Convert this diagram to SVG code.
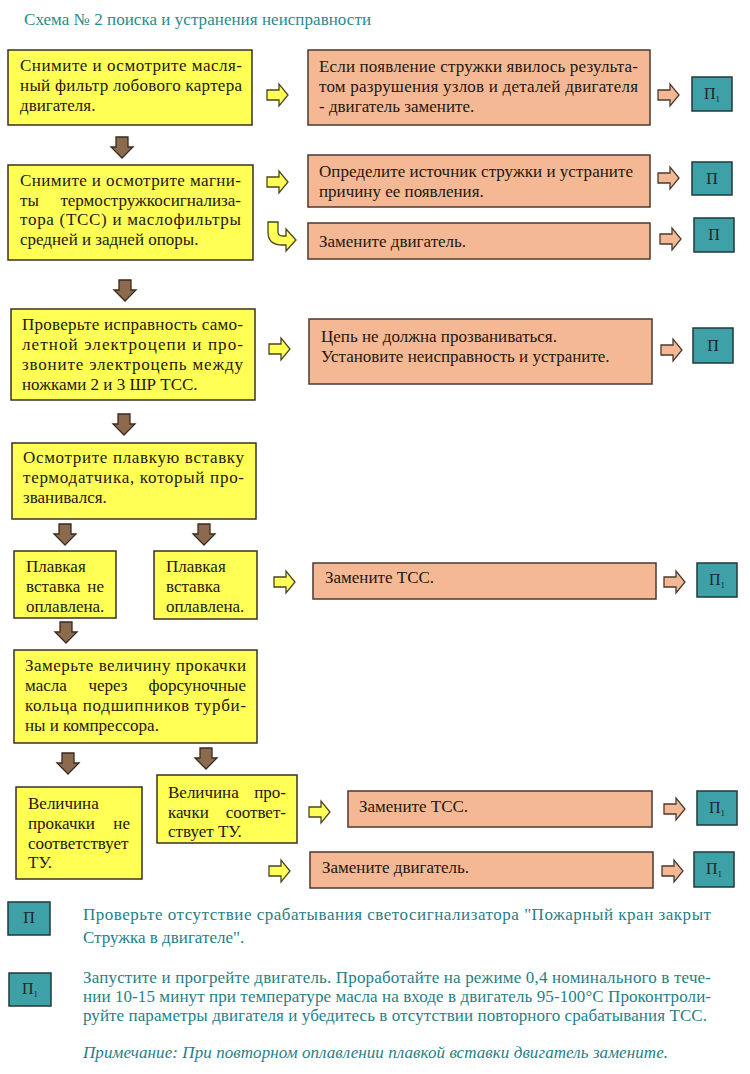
<svg xmlns="http://www.w3.org/2000/svg" width="750" height="1074" viewBox="0 0 750 1074">
<style>
.y{fill:#ffff55;stroke:#3a3026;stroke-width:1.5}
.s{fill:#f5b894;stroke:#4a3a30;stroke-width:1.5}
.t{fill:#3fa1a8;stroke:#22393a;stroke-width:1.5}
.tx{font-family:"Liberation Serif","Times New Roman",serif;font-size:17px;fill:#22170f}
.e{text-anchor:end}
.m{text-anchor:middle}
.lbl{font-family:"Liberation Serif","Times New Roman",serif;font-size:16px;fill:#1c2626;text-anchor:middle}
.leg{font-family:"Liberation Serif","Times New Roman",serif;font-size:17px;fill:#1f8088}
.ay{fill:#ffff55;stroke:#4a4420;stroke-width:1.3}
.as{fill:#f5b894;stroke:#4a3a30;stroke-width:1.3}
.ad{fill:#8b6a4e;stroke:#3a2a20;stroke-width:1.3}
</style>
<defs>
<path id="ar" d="M0,6 H12 V0 L21,11 L12,22 V16 H0 Z"/>
<path id="adn" d="M5,0 H17 V10 H22 L11,21 L0,10 H5 Z"/>
</defs>
<rect width="750" height="1074" fill="#ffffff"/>
<text id="title" class="leg" x="24" y="25" textLength="347" lengthAdjust="spacing" style="fill:#2a8a8c">Схема № 2 поиска и устранения неисправности</text>

<g id="connectors">
<use href="#adn" class="ad" x="111" y="137"/>
<use href="#adn" class="ad" x="114" y="280"/>
<use href="#adn" class="ad" x="113" y="414"/>
<use href="#adn" class="ad" x="54" y="524"/>
<use href="#adn" class="ad" x="193" y="524"/>
<use href="#adn" class="ad" x="55" y="622"/>
<use href="#adn" class="ad" x="57" y="753"/>
<use href="#adn" class="ad" x="195" y="748"/>
<use href="#ar" class="ay" x="267" y="84"/>
<use href="#ar" class="ay" x="267" y="171"/>
<use href="#ar" class="ay" x="269" y="338"/>
<use href="#ar" class="ay" x="274" y="571"/>
<use href="#ar" class="ay" x="309" y="801"/>
<use href="#ar" class="ay" x="269" y="860"/>
<path class="ay" d="M268,222 H278 V232 Q278,236 283,236 H286 V229 L296,240 L286,251 V245 H282 Q268,245 268,232 Z"/>
<use href="#ar" class="as" x="658" y="84"/>
<use href="#ar" class="as" x="658" y="167"/>
<use href="#ar" class="as" x="660" y="228"/>
<use href="#ar" class="as" x="661" y="339"/>
<use href="#ar" class="as" x="664" y="571"/>
<use href="#ar" class="as" x="664" y="798"/>
<use href="#ar" class="as" x="662" y="860"/>
</g>

<g id="n1">
<rect class="y" x="8" y="50" width="244" height="75"/>
<text class="tx" x="20" y="71" textLength="222" lengthAdjust="spacing">Снимите и осмотрите масля-</text>
<text class="tx" x="20" y="91" textLength="222" lengthAdjust="spacing">ный фильтр лобового картера</text>
<text class="tx" x="20" y="111">двигателя.</text>
</g>
<g id="n1r">
<rect class="s" x="308" y="50" width="342" height="75"/>
<text class="tx" x="319" y="72" textLength="319" lengthAdjust="spacing">Если появление стружки явилось результа-</text>
<text class="tx" x="319" y="92" textLength="319" lengthAdjust="spacing">том разрушения узлов и деталей двигателя</text>
<text class="tx" x="319" y="112">- двигатель замените.</text>
</g>
<g id="t1">
<rect class="t" x="692" y="77" width="40" height="34"/>
<text class="lbl" x="712" y="99">П<tspan font-size="9" dy="3">1</tspan></text>
</g>

<g id="n2">
<rect class="y" x="8" y="165" width="245" height="95"/>
<text class="tx" x="20" y="186" textLength="221" lengthAdjust="spacing">Снимите и осмотрите магни-</text>
<text class="tx" x="20" y="206">ты</text>
<text class="tx e" x="241" y="206">термостружкосигнализа-</text>
<text class="tx" x="20" y="225" textLength="221" lengthAdjust="spacing">тора (ТСС) и маслофильтры</text>
<text class="tx" x="20" y="245">средней и задней опоры.</text>
</g>
<g id="n2r">
<rect class="s" x="308" y="155" width="342" height="52"/>
<text class="tx" x="319" y="177" textLength="314" lengthAdjust="spacing">Определите источник стружки и устраните</text>
<text class="tx" x="319" y="197">причину ее появления.</text>
</g>
<g id="t2">
<rect class="t" x="692" y="162" width="40" height="33"/>
<text class="lbl" x="712" y="184">П</text>
</g>
<g id="n3r">
<rect class="s" x="308" y="223" width="342" height="36"/>
<text class="tx" x="319" y="247">Замените двигатель.</text>
</g>
<g id="t3">
<rect class="t" x="694" y="218" width="40" height="34"/>
<text class="lbl" x="714" y="240">П</text>
</g>

<g id="n4">
<rect class="y" x="11" y="309" width="244" height="91"/>
<text class="tx" x="22" y="330" textLength="221" lengthAdjust="spacing">Проверьте исправность само-</text>
<text class="tx" x="22" y="350" textLength="221" lengthAdjust="spacing">летной электроцепи и про-</text>
<text class="tx" x="22" y="370" textLength="221" lengthAdjust="spacing">звоните электроцепь между</text>
<text class="tx" x="22" y="390">ножками 2 и 3 ШР ТСС.</text>
</g>
<g id="n4r">
<rect class="s" x="309" y="319" width="343" height="65"/>
<text class="tx" x="321" y="342">Цепь не должна прозваниваться.</text>
<text class="tx" x="321" y="362">Установите неисправность и устраните.</text>
</g>
<g id="t4">
<rect class="t" x="693" y="328" width="40" height="35"/>
<text class="lbl" x="713" y="351">П</text>
</g>

<g id="n5">
<rect class="y" x="12" y="443" width="244" height="76"/>
<text class="tx" x="23" y="463" textLength="221" lengthAdjust="spacing">Осмотрите плавкую вставку</text>
<text class="tx" x="23" y="483" textLength="221" lengthAdjust="spacing">термодатчика, который про-</text>
<text class="tx" x="23" y="503">званивался.</text>
</g>
<g id="n6">
<rect class="y" x="14" y="551" width="102" height="67"/>
<text class="tx" x="26" y="572">Плавкая</text>
<text class="tx" x="26" y="592">вставка</text>
<text class="tx e" x="104" y="592">не</text>
<text class="tx" x="26" y="612">оплавлена.</text>
</g>
<g id="n7">
<rect class="y" x="154" y="551" width="103" height="68"/>
<text class="tx" x="166" y="572">Плавкая</text>
<text class="tx" x="166" y="592">вставка</text>
<text class="tx" x="166" y="612">оплавлена.</text>
</g>
<g id="n7r">
<rect class="s" x="313" y="563" width="343" height="36"/>
<text class="tx" x="325" y="583">Замените ТСС.</text>
</g>
<g id="t5">
<rect class="t" x="697" y="563" width="40" height="34"/>
<text class="lbl" x="717" y="585">П<tspan font-size="9" dy="3">1</tspan></text>
</g>

<g id="n8">
<rect class="y" x="14" y="650" width="243" height="93"/>
<text class="tx" x="25" y="671" textLength="221" lengthAdjust="spacing">Замерьте величину прокачки</text>
<text class="tx" x="25" y="691">масла</text>
<text class="tx m" x="108" y="691">через</text>
<text class="tx e" x="246" y="691">форсуночные</text>
<text class="tx" x="25" y="711" textLength="221" lengthAdjust="spacing">кольца подшипников турби-</text>
<text class="tx" x="25" y="731">ны и компрессора.</text>
</g>
<g id="n9">
<rect class="y" x="16" y="787" width="126" height="92"/>
<text class="tx" x="28" y="809">Величина</text>
<text class="tx" x="28" y="829">прокачки</text>
<text class="tx e" x="130" y="829">не</text>
<text class="tx" x="28" y="849">соответствует</text>
<text class="tx" x="28" y="868">ТУ.</text>
</g>
<g id="n10">
<rect class="y" x="157" y="775" width="140" height="68"/>
<text class="tx" x="168" y="798">Величина</text>
<text class="tx e" x="286" y="798">про-</text>
<text class="tx" x="168" y="818">качки</text>
<text class="tx e" x="286" y="818">соответ-</text>
<text class="tx" x="168" y="837">ствует ТУ.</text>
</g>
<g id="n10r">
<rect class="s" x="348" y="791" width="304" height="36"/>
<text class="tx" x="359" y="812">Замените ТСС.</text>
</g>
<g id="t7">
<rect class="t" x="697" y="791" width="40" height="34"/>
<text class="lbl" x="717" y="813">П<tspan font-size="9" dy="3">1</tspan></text>
</g>
<g id="n11r">
<rect class="s" x="310" y="852" width="343" height="36"/>
<text class="tx" x="322" y="873">Замените двигатель.</text>
</g>
<g id="t8">
<rect class="t" x="694" y="852" width="40" height="35"/>
<text class="lbl" x="714" y="874">П<tspan font-size="9" dy="3">1</tspan></text>
</g>

<g id="legend1">
<rect class="t" x="8" y="902" width="42" height="33"/>
<text class="lbl" x="29" y="923">П</text>
<text class="leg" x="83" y="920" textLength="628" lengthAdjust="spacing">Проверьте отсутствие срабатывания светосигнализатора "Пожарный кран закрыт</text>
<text class="leg" x="83" y="943">Стружка в двигателе".</text>
</g>
<g id="legend2">
<rect class="t" x="9" y="973" width="42" height="33"/>
<text class="lbl" x="30" y="994">П<tspan font-size="9" dy="3">1</tspan></text>
<text class="leg" x="83" y="983" textLength="628" lengthAdjust="spacing">Запустите и прогрейте двигатель. Проработайте на режиме 0,4 номинального в тече-</text>
<text class="leg" x="83" y="1002" textLength="628" lengthAdjust="spacing">нии 10-15 минут при температуре масла на входе в двигатель 95-100°С Проконтроли-</text>
<text class="leg" x="83" y="1021" textLength="624" lengthAdjust="spacing">руйте параметры двигателя и убедитесь в отсутствии повторного срабатывания ТСС.</text>
</g>
<text id="note" class="leg" x="83" y="1058" textLength="585" lengthAdjust="spacing" font-style="italic">Примечание: При повторном оплавлении плавкой вставки двигатель замените.</text>
</svg>
